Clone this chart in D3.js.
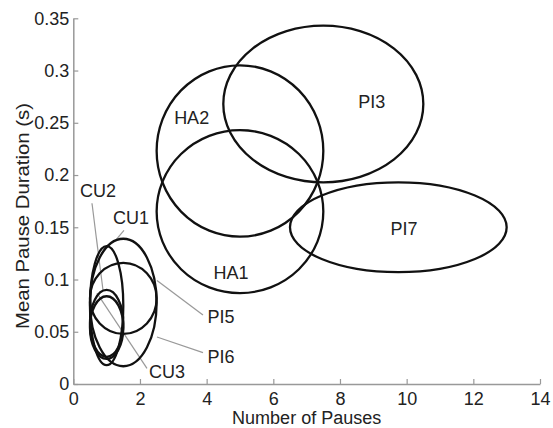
<!DOCTYPE html>
<html>
<head>
<meta charset="utf-8">
<script src="https://cdn.jsdelivr.net/npm/d3@7"></script>
<style>
  body { margin: 0; background: #fff; }
  text { font-family: "Liberation Sans", Arial, sans-serif; fill: #222; }
</style>
</head>
<body>
<svg id="chart"></svg>
<script>
// Ellipses (center and semi-axes in data units)
const names = ['PI3', 'HA2', 'HA1', 'PI7', 'PI6', 'PI5', 'CU1', 'CU2', 'CU3']
const centerX = [7.5, 5.0, 5.0, 9.75, 1.5, 1.5, 1.0, 1.0, 1.0]
const centerY = [0.268, 0.223, 0.165, 0.150, 0.078, 0.082, 0.075, 0.058, 0.054]
const radiusX = [3.0, 2.5, 2.5, 3.25, 1.0, 1.0, 0.5, 0.5, 0.5]
const radiusY = [0.075, 0.082, 0.078, 0.043, 0.061, 0.034, 0.057, 0.032, 0.030]

// Label anchors (data units)
const labelX = [8.95, 3.55, 4.73, 9.92, 4.43, 4.43, 1.73, 0.74, 2.81]
const labelY = [0.270, 0.255, 0.107, 0.149, 0.026, 0.064, 0.159, 0.185, 0.0115]

// Leader lines for the crowded small ellipses: [x1, y1, x2, y2]
const leaders = [
  [0.56, 0.173, 0.89, 0.090], // CU2
  [1.52, 0.147, 1.28, 0.138], // CU1
  [2.51, 0.099, 3.89, 0.066], // PI5
  [2.51, 0.045, 3.89, 0.030], // PI6
  [0.71, 0.087, 2.21, 0.015]  // CU3
]

const xTicks = [0, 2, 4, 6, 8, 10, 12, 14]
const yTicks = [0, 0.05, 0.1, 0.15, 0.2, 0.25, 0.3, 0.35]

const width = 553
const height = 428

const svg = d3.select('#chart')
  .attr('width', width)
  .attr('height', height)

const x = d3.scaleLinear().domain([0, 14]).range([73.3, 540])
const y = d3.scaleLinear().domain([0, 0.35]).range([384, 18.3])

const fmt = d => String(+d.toFixed(2))

// X axis (ticks point inward)
const gx = svg.append('g')
  .attr('transform', `translate(0,${y(0)})`)
  .call(d3.axisBottom(x).tickValues(xTicks).tickFormat(fmt)
    .tickSizeInner(-5).tickSizeOuter(0).tickPadding(8))
gx.select('.domain').attr('stroke', '#999').attr('stroke-width', 1.5)
gx.selectAll('.tick line').attr('stroke', '#999').attr('stroke-width', 1.2)
gx.selectAll('.tick text').attr('font-size', 18).style('fill', '#222')

// Y axis
const gy = svg.append('g')
  .attr('transform', `translate(${x(0)},0)`)
  .call(d3.axisLeft(y).tickValues(yTicks).tickFormat(fmt)
    .tickSizeInner(-5).tickSizeOuter(0).tickPadding(4))
gy.select('.domain').attr('stroke', '#999').attr('stroke-width', 1.5)
gy.selectAll('.tick line').attr('stroke', '#999').attr('stroke-width', 1.2)
gy.selectAll('.tick text').attr('font-size', 18).style('fill', '#222')

// Axis titles
svg.append('text')
  .attr('x', (x(0) + x(14)) / 2)
  .attr('y', 424)
  .attr('text-anchor', 'middle')
  .attr('font-size', 18)
  .text('Number of Pauses')

svg.append('text')
  .attr('transform', `translate(29,216) rotate(-90)`)
  .attr('text-anchor', 'middle')
  .attr('font-size', 19)
  .attr('textLength', 226)
  .attr('lengthAdjust', 'spacingAndGlyphs')
  .text('Mean Pause Duration (s)')

// Leader lines
svg.append('g')
  .selectAll('line')
  .data(leaders)
  .join('line')
  .attr('x1', d => x(d[0]))
  .attr('y1', d => y(d[1]))
  .attr('x2', d => x(d[2]))
  .attr('y2', d => y(d[3]))
  .attr('stroke', '#999')
  .attr('stroke-width', 1.2)

// Ellipses
svg.append('g')
  .selectAll('ellipse')
  .data(names)
  .join('ellipse')
  .attr('cx', (d, i) => x(centerX[i]))
  .attr('cy', (d, i) => y(centerY[i]))
  .attr('rx', (d, i) => x(radiusX[i]) - x(0))
  .attr('ry', (d, i) => y(0) - y(radiusY[i]))
  .attr('fill', 'none')
  .attr('stroke', '#111')
  .attr('stroke-width', 2.3)

// Ellipse labels
svg.append('g')
  .selectAll('text')
  .data(names)
  .join('text')
  .attr('x', (d, i) => x(labelX[i]))
  .attr('y', (d, i) => y(labelY[i]))
  .attr('dy', '0.35em')
  .attr('text-anchor', 'middle')
  .attr('font-size', 18)
  .text(d => d)
</script>
</body>
</html>
